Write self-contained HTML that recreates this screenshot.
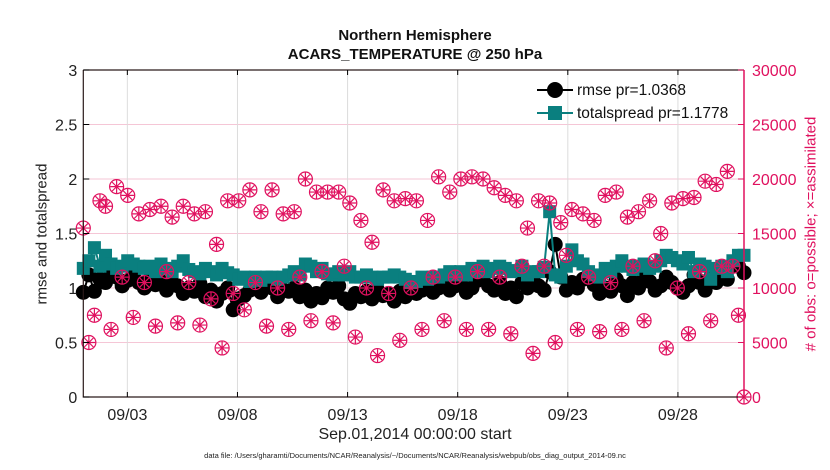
<!DOCTYPE html>
<html><head><meta charset="utf-8"><style>
body{margin:0;background:#fff;font-family:"Liberation Sans",sans-serif}
svg{display:block}
</style></head><body>
<svg id="c" width="830" height="470" xmlns="http://www.w3.org/2000/svg"></svg>
<script>
const xTickLabels=["09/03","09/08","09/13","09/18","09/23","09/28"];
const xTickDays=[3,8,13,18,23,28];
const yLeftTicks=[0,0.5,1,1.5,2,2.5,3];
const yRightTicks=[0,5000,10000,15000,20000,25000,30000];
const rmse=[0.96,1.12,0.97,1.08,1.05,1.15,1.1,1.02,1.07,1.12,1.05,1.0,1.08,1.03,1.06,0.98,1.05,1.02,0.95,1.0,0.97,1.04,0.92,0.98,0.88,0.95,1.0,0.8,0.9,0.93,0.98,1.02,0.96,1.05,1.0,0.92,0.98,0.97,1.0,0.92,0.98,0.88,0.95,0.91,1.0,0.96,1.02,0.9,0.86,0.95,0.92,0.97,0.9,0.98,0.93,0.95,0.88,0.97,0.92,1.0,0.95,0.98,1.03,0.96,1.0,1.05,0.98,1.02,1.08,0.96,1.0,1.07,1.1,1.02,0.98,1.05,0.95,1.0,0.92,1.05,1.0,1.1,1.02,0.98,1.15,1.4,1.1,0.98,1.05,1.0,1.08,1.12,1.03,0.95,1.0,0.97,1.08,1.02,0.93,1.05,1.0,1.12,1.06,0.98,1.02,1.1,1.05,1.0,0.96,1.02,1.12,1.05,0.98,1.1,1.05,1.15,1.08,1.2,1.2,1.14];
const spread=[1.18,1.25,1.37,1.2,1.3,1.22,1.18,1.2,1.25,1.22,1.2,1.18,1.2,1.15,1.22,1.18,1.15,1.2,1.25,1.17,1.15,1.13,1.18,1.15,1.12,1.18,1.14,1.12,1.08,1.1,1.06,1.1,1.07,1.1,1.1,1.08,1.1,1.12,1.15,1.12,1.22,1.2,1.15,1.18,1.13,1.12,1.15,1.12,1.15,1.1,1.1,1.12,1.1,1.08,1.1,1.1,1.12,1.1,1.08,1.05,1.06,1.1,1.08,1.1,1.1,1.12,1.15,1.12,1.15,1.12,1.18,1.15,1.2,1.15,1.18,1.2,1.18,1.15,1.16,1.2,1.12,1.15,1.15,1.19,1.7,1.12,1.1,1.2,1.35,1.25,1.22,1.15,1.12,1.1,1.18,1.15,1.2,1.25,1.2,1.17,1.2,1.22,1.18,1.2,1.25,1.3,1.28,1.25,1.22,1.28,1.15,1.22,1.2,1.08,1.18,1.2,1.15,1.25,1.3,1.3];
const obs=[15.5,5,7.5,18,17.5,6.2,19.3,11,18.5,7.3,16.8,10.5,17.2,6.5,17.5,11.5,16.5,6.8,17.5,10.5,16.8,6.6,17.0,9,14,4.5,18,9.5,18,8,19,10.5,17,6.5,19,10,16.8,6.2,17,11,20,7,18.8,11.5,18.8,6.8,18.8,12,17.8,5.5,16.2,10,14.2,3.8,19,9.5,18,5.2,18.2,10,18,6.2,16.2,11,20.2,7,18.8,11,20,6.2,20.2,11.5,20,6.2,19.2,11,18.5,5.8,18,12,15.5,4,18,12,17.8,5,16,13,17.2,6.2,16.8,11,16.2,6,18.5,10.5,18.8,6.2,16.5,12,17,7,18,12.5,15,4.5,17.8,10,18.2,5.8,18.3,11.5,19.8,7,19.5,12,20.7,12,7.5,0];
const NS="http://www.w3.org/2000/svg";
const svg=document.getElementById('c');
const L=83.3,R=744,T=70,B=397;
const xs=d=>L+(d-1)*(R-L)/30;
const yl=v=>B-v*(B-T)/3;
const yr=v=>B-v*(B-T)/30000;
const tAt=i=>1+i*30/119;
function mk(tag,a,p){const e=document.createElementNS(NS,tag);for(const k in a)e.setAttribute(k,a[k]);(p||svg).appendChild(e);return e;}
const g=mk('g',{});


yRightTicks.forEach(v=>{if(v>0&&v<30000){const l=mk('line',{x1:L,x2:R,y1:yr(v),y2:yr(v),stroke:'#f5c6d6','stroke-width':1},g);

}});
xTickDays.forEach(d=>{const l=mk('line',{x1:xs(d),x2:xs(d),y1:T,y2:B,stroke:'#dcdcdc','stroke-width':1},g);

});
const og=mk('g',{},g);


obs.forEach((v,i)=>{const x=xs(tAt(i)),y=yr(v*1000);const m=mk('g',{stroke:'#e0115f','stroke-width':1.2,fill:'none'},og);


mk('circle',{cx:x,cy:y,r:7},m);
mk('path',{d:`M${x-6.5} ${y}H${x+6.5}M${x} ${y-6.5}V${y+6.5}M${x-4.5} ${y-4.5}L${x+4.5} ${y+4.5}M${x-4.5} ${y+4.5}L${x+4.5} ${y-4.5}`},m);});
const rp=rmse.map((v,i)=>`${xs(tAt(i))},${yl(v)}`).join(' ');
const rl=mk('polyline',{points:rp,fill:'none',stroke:'#000','stroke-width':2},g);


rmse.forEach((v,i)=>{const c=mk('circle',{cx:xs(tAt(i)),cy:yl(v),r:7.5,fill:'#000'},g);

});
const sp=spread.map((v,i)=>`${xs(tAt(i))},${yl(v)}`).join(' ');
const sl=mk('polyline',{points:sp,fill:'none',stroke:'#0a7f7f','stroke-width':2},g);


spread.forEach((v,i)=>{const r=mk('rect',{x:xs(tAt(i))-6.5,y:yl(v)-6.5,width:13,height:13,fill:'#0a7f7f'},g);

});
svg.appendChild(og);
const ax=mk('path',{d:`M${L} ${T}H${R}M${L} ${T}V${B}H${R}`,stroke:'#2a1a1a','stroke-width':1.2,fill:'none'});


const ra=mk('line',{x1:R,x2:R,y1:T,y2:B,stroke:'#e0115f','stroke-width':1.5});


xTickDays.forEach((d,i)=>{mk('path',{d:`M${xs(d)} ${B}v-5M${xs(d)} ${T}v5`,stroke:'#000'});
const t=mk('text',{x:xs(d),y:420,'text-anchor':'middle','font-size':16,fill:'#222'});t.textContent=xTickLabels[i];

});
yLeftTicks.forEach(v=>{mk('path',{d:`M${L} ${yl(v)}h6`,stroke:'#000'});
const t=mk('text',{x:L-6,y:yl(v)+6,'text-anchor':'end','font-size':16,fill:'#222'});t.textContent=String(v);

});
yRightTicks.forEach(v=>{mk('path',{d:`M${R} ${yr(v)}h-6`,stroke:'#e0115f'});
const t=mk('text',{x:R+8,y:yr(v)+6,'font-size':16,fill:'#e0115f'});t.textContent=String(v);

});
</script>
<div style="position:absolute;left:0;top:0;width:830px;height:470px;pointer-events:none">
<div style="position:absolute;left:0;width:830px;top:26px;text-align:center;font-weight:bold;font-size:15px;line-height:19px;color:#111">Northern Hemisphere<br>ACARS_TEMPERATURE @ 250 hPa</div>
<div style="position:absolute;left:42px;top:234px;transform:translate(-50%,-50%) rotate(-90deg);font-size:15px;white-space:nowrap;color:#222">rmse and totalspread</div>
<div style="position:absolute;left:811px;top:234px;transform:translate(-50%,-50%) rotate(-90deg);font-size:15px;white-space:nowrap;color:#e0115f"># of obs: o=possible; ×=assimilated</div>
<div style="position:absolute;left:0;width:830px;top:426px;text-align:center;font-size:16px;color:#222">Sep.01,2014 00:00:00 start</div>
<div style="position:absolute;left:0;width:830px;top:451px;text-align:center;font-size:7.5px;color:#222">data file: /Users/gharamti/Documents/NCAR/Reanalysis/~/Documents/NCAR/Reanalysis/webpub/obs_diag_output_2014-09.nc</div>
<div style="position:absolute;left:535px;top:79px;font-size:15.5px;color:#111;line-height:23px">
<div style="position:relative;padding-left:42px"><span style="position:absolute;left:2px;top:10px;width:36px;height:2px;background:#000"></span><span style="position:absolute;left:12px;top:3px;width:16px;height:16px;border-radius:50%;background:#000"></span>rmse pr=1.0368</div>
<div style="position:relative;padding-left:42px"><span style="position:absolute;left:2px;top:10px;width:36px;height:2px;background:#0a7f7f"></span><span style="position:absolute;left:13px;top:4px;width:14px;height:14px;background:#0a7f7f"></span>totalspread pr=1.1778</div>
</div>
</div>
</body></html>
